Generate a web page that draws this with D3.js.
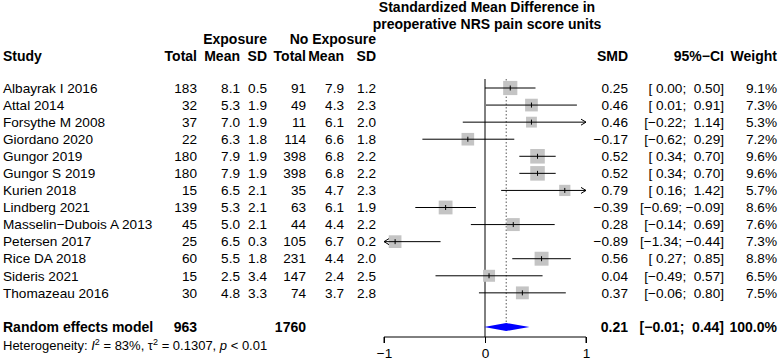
<!DOCTYPE html>
<html>
<head>
<meta charset="utf-8">
<script src="https://cdn.jsdelivr.net/npm/d3@7"></script>
<style>
  body { margin: 0; background: #fff; }
  svg text { font-family: "Liberation Sans", Arial, Helvetica, sans-serif; font-size: 13.6px; fill: #000; }
  .bold { font-weight: bold; font-size: 14px; }
</style>
</head>
<body>
<div id="chart"></div>
<script>
const studies = ["Albayrak I 2016", "Attal 2014", "Forsythe M 2008", "Giordano 2020", "Gungor 2019",
  "Gungor S 2019", "Kurien 2018", "Lindberg 2021", "Masselin\u2212Dubois A 2013", "Petersen 2017",
  "Rice DA 2018", "Sideris 2021", "Thomazeau 2016"];
const expTotal = [183, 32, 37, 22, 180, 180, 15, 139, 45, 25, 60, 15, 30];
const expMean = ["8.1", "5.3", "7.0", "6.3", "7.9", "7.9", "6.5", "5.3", "5.0", "6.5", "5.5", "2.5", "4.8"];
const expSD = ["0.5", "1.9", "1.9", "1.8", "1.9", "1.9", "2.1", "2.1", "2.1", "0.3", "1.8", "3.4", "3.3"];
const noTotal = [91, 49, 11, 114, 398, 398, 35, 63, 44, 105, 231, 147, 74];
const noMean = ["7.9", "4.3", "6.1", "6.6", "6.8", "6.8", "4.7", "6.1", "4.4", "6.7", "4.4", "2.4", "3.7"];
const noSD = ["1.2", "2.3", "2.0", "1.8", "2.2", "2.2", "2.3", "1.9", "2.2", "0.2", "2.0", "2.5", "2.8"];
const smd = [0.25, 0.46, 0.46, -0.17, 0.52, 0.52, 0.79, -0.39, 0.28, -0.89, 0.56, 0.04, 0.37];
const lower = [0.00, 0.01, -0.22, -0.62, 0.34, 0.34, 0.16, -0.69, -0.14, -1.34, 0.27, -0.49, -0.06];
const upper = [0.50, 0.91, 1.14, 0.29, 0.70, 0.70, 1.42, -0.09, 0.69, -0.44, 0.85, 0.57, 0.80];
const weight = [9.1, 7.3, 5.3, 7.2, 9.6, 9.6, 5.7, 8.6, 7.6, 7.3, 8.8, 6.5, 7.5];
const pooled = { smd: 0.21, lower: -0.01, upper: 0.44, expTotal: 963, noTotal: 1760 };
const axisTicks = [-1, 0, 1];

const W = 778, H = 363;
const svg = d3.select("#chart").append("svg").attr("width", W).attr("height", H);

const x = d3.scaleLinear().domain([-1, 1]).range([384, 586]);
const y = d3.scaleLinear().domain([0, 14]).range([88, 327]);

const fmt = v => (v < 0 ? "\u2212" : "") + Math.abs(v).toFixed(2);
const pad = s => (s.length < 5 ? " ".repeat(5 - s.length) : "") + s;
const ciText = (l, u) => "[" + pad(fmt(l)) + "; " + pad(fmt(u)) + "]";

// column right edges
const cols = { total1: 197, mean1: 240, sd1: 267, total2: 306, mean2: 344, sd2: 376, smd: 628, ci: 724, w: 777 };

function txt(xp, yp, s, anchor, cls) {
  return svg.append("text")
    .attr("x", xp).attr("y", yp)
    .attr("dy", "0.35em")
    .attr("text-anchor", anchor || "end")
    .attr("class", cls || null)
    .style("white-space", "pre")
    .attr("xml:space", "preserve")
    .text(s);
}

// header
txt(487, 7, "Standardized Mean Difference in", "middle", "bold");
txt(487, 24, "preoperative NRS pain score units", "middle", "bold");
txt(cols.sd1, 39, "Exposure", "end", "bold");
txt(cols.sd2, 39, "No Exposure", "end", "bold");
txt(3, 56, "Study", "start", "bold");
[["Total", cols.total1], ["Mean", cols.mean1], ["SD", cols.sd1], ["Total", cols.total2],
 ["Mean", cols.mean2], ["SD", cols.sd2], ["SMD", cols.smd], ["95%\u2212CI", cols.ci], ["Weight", cols.w]]
  .forEach(([s, c]) => txt(c, 56, s, "end", "bold"));

// reference lines
svg.append("line")
  .attr("x1", x(0)).attr("x2", x(0)).attr("y1", y(0) - 9).attr("y2", 337)
  .attr("stroke", "#000").attr("stroke-width", 1);
svg.append("line")
  .attr("x1", x(pooled.smd)).attr("x2", x(pooled.smd)).attr("y1", y(0) - 9).attr("y2", y(14) - 4)
  .attr("stroke", "#555").attr("stroke-width", 1).attr("stroke-dasharray", "1.5,2");

// study rows
studies.forEach((s, i) => {
  const yy = y(i);
  txt(3, yy, s, "start");
  txt(cols.total1, yy, String(expTotal[i]));
  txt(cols.mean1, yy, expMean[i]);
  txt(cols.sd1, yy, expSD[i]);
  txt(cols.total2, yy, String(noTotal[i]));
  txt(cols.mean2, yy, noMean[i]);
  txt(cols.sd2, yy, noSD[i]);
  txt(cols.smd, yy, fmt(smd[i]));
  txt(cols.ci, yy, ciText(lower[i], upper[i]));
  txt(cols.w, yy, weight[i].toFixed(1) + "%");

  const side = 4.7 * Math.sqrt(weight[i]);
  svg.append("rect")
    .attr("x", x(smd[i]) - side / 2).attr("y", yy - side / 2)
    .attr("width", side).attr("height", side)
    .attr("fill", "#c4c4c4");

  const lo = Math.max(lower[i], -1), hi = Math.min(upper[i], 1);
  svg.append("line")
    .attr("x1", x(lo)).attr("x2", x(hi)).attr("y1", yy).attr("y2", yy)
    .attr("stroke", "#000").attr("stroke-width", 1);
  if (upper[i] > 1) {
    svg.append("path").attr("d", `M${x(1) - 5},${yy - 3}L${x(1)},${yy}L${x(1) - 5},${yy + 3}`)
      .attr("fill", "none").attr("stroke", "#000");
  }
  if (lower[i] < -1) {
    svg.append("path").attr("d", `M${x(-1) + 5},${yy - 3}L${x(-1)},${yy}L${x(-1) + 5},${yy + 3}`)
      .attr("fill", "none").attr("stroke", "#000");
  }
  svg.append("line")
    .attr("x1", x(smd[i])).attr("x2", x(smd[i])).attr("y1", yy - 2.5).attr("y2", yy + 2.5)
    .attr("stroke", "#000").attr("stroke-width", 1);
});

// pooled row
const yp = y(14);
txt(3, yp, "Random effects model", "start", "bold");
txt(cols.total1, yp, String(pooled.expTotal), "end", "bold");
txt(cols.total2, yp, String(pooled.noTotal), "end", "bold");
txt(cols.smd, yp, fmt(pooled.smd), "end", "bold");
txt(cols.ci, yp, ciText(pooled.lower, pooled.upper), "end", "bold");
txt(cols.w, yp, "100.0%", "end", "bold");
svg.append("path")
  .attr("d", `M${x(pooled.lower)},${yp}L${x(pooled.smd)},${yp - 4}L${x(pooled.upper)},${yp}L${x(pooled.smd)},${yp + 4}Z`)
  .attr("fill", "#0000ff");

// heterogeneity
const het = svg.append("text").attr("x", 3).attr("y", 345).attr("dy", "0.35em").style("font-size", "13px");
het.append("tspan").text("Heterogeneity: ");
het.append("tspan").style("font-style", "italic").text("I");
het.append("tspan").attr("dy", "-5").style("font-size", "9px").text("2");
het.append("tspan").attr("dy", "5").text(" = 83%, \u03c4");
het.append("tspan").attr("dy", "-5").style("font-size", "9px").text("2");
het.append("tspan").attr("dy", "5").text(" = 0.1307, ");
het.append("tspan").style("font-style", "italic").text("p");
het.append("tspan").text(" < 0.01");

// axis
const axis = d3.axisBottom(x).tickValues(axisTicks).tickSize(6).tickPadding(5)
  .tickFormat(d => d < 0 ? "\u2212" + Math.abs(d) : String(d));
const ax = svg.append("g").attr("transform", "translate(0,337)").call(axis);
ax.select(".domain").attr("d", `M${x(-1)},6V0H${x(1)}V6`).attr("stroke", "#000");
ax.selectAll("text").style("font-size", "13.6px").attr("fill", "#000")
  .style("font-family", '"Liberation Sans", Arial, sans-serif');
</script>
</body>
</html>
